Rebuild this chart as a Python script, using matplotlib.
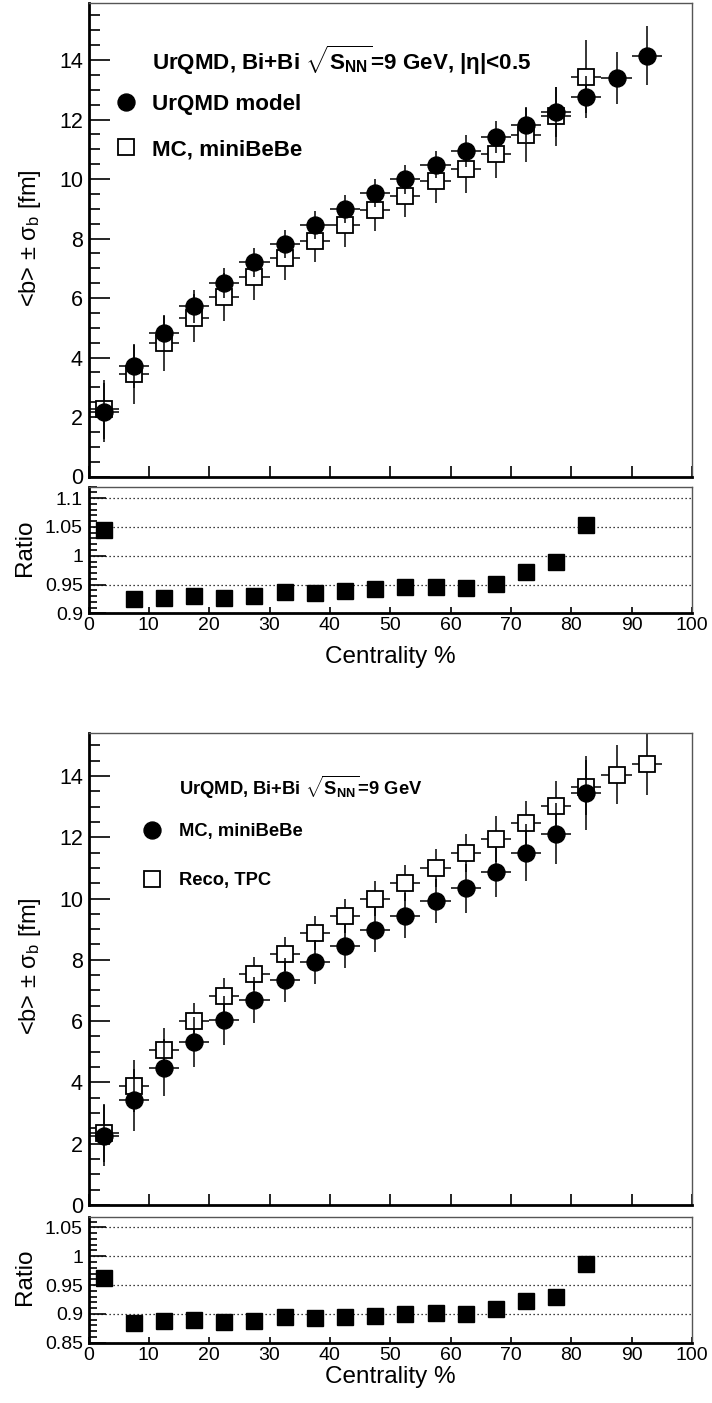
import numpy as np
import matplotlib
matplotlib.use("Agg")
import matplotlib.pyplot as plt
from matplotlib.lines import Line2D
from matplotlib.ticker import MultipleLocator, FixedLocator, FuncFormatter

plt.rcParams["font.family"] = ["Liberation Sans", "DejaVu Sans"]
plt.rcParams["mathtext.fontset"] = "custom"
plt.rcParams["mathtext.rm"] = "Liberation Sans"
plt.rcParams["mathtext.it"] = "Liberation Sans:italic"
plt.rcParams["mathtext.bf"] = "Liberation Sans:bold"
plt.rcParams["mathtext.sf"] = "Liberation Sans"

# ---------------- data ----------------
centrality = [2.5, 7.5, 12.5, 17.5, 22.5, 27.5, 32.5, 37.5, 42.5, 47.5,
              52.5, 57.5, 62.5, 67.5, 72.5, 77.5, 82.5, 87.5, 92.5]
bin_half_width = 2.5

urqmd_b = [2.16, 3.71, 4.82, 5.72, 6.50, 7.20, 7.82, 8.45, 8.98, 9.52,
           9.99, 10.49, 10.94, 11.41, 11.82, 12.24, 12.76, 13.40, 14.15]
urqmd_sigma = [1.00, 0.75, 0.60, 0.55, 0.50, 0.48, 0.47, 0.47, 0.47, 0.47,
               0.49, 0.47, 0.53, 0.53, 0.56, 0.84, 0.71, 0.88, 0.98]

mc_b = [2.26, 3.43, 4.48, 5.33, 6.03, 6.70, 7.33, 7.92, 8.45, 8.97,
        9.44, 9.92, 10.33, 10.85, 11.49, 12.11, 13.44]
mc_sigma = [1.00, 1.00, 0.92, 0.82, 0.80, 0.75, 0.72, 0.72, 0.72, 0.72,
            0.73, 0.72, 0.79, 0.80, 0.93, 1.00, 1.22]

reco_b = [2.35, 3.88, 5.05, 5.99, 6.81, 7.55, 8.20, 8.87, 9.44, 10.00,
          10.50, 11.01, 11.48, 11.95, 12.45, 13.02, 13.63, 14.04, 14.39]
reco_sigma = [0.96, 0.84, 0.71, 0.60, 0.60, 0.55, 0.55, 0.56, 0.56, 0.56,
              0.58, 0.62, 0.63, 0.75, 0.73, 0.82, 0.90, 0.96, 1.01]

ratio_mc_urqmd = [1.045, 0.924, 0.927, 0.930, 0.926, 0.930, 0.937, 0.936, 0.939,
                  0.942, 0.945, 0.946, 0.944, 0.951, 0.972, 0.989, 1.053]
ratio_mc_reco = [0.962, 0.884, 0.887, 0.890, 0.886, 0.888, 0.894, 0.8925, 0.895,
                 0.897, 0.899, 0.901, 0.900, 0.908, 0.923, 0.930, 0.986]

main_yticks = [0, 2, 4, 6, 8, 10, 12, 14]
ratio1_yticks = [0.9, 0.95, 1.0, 1.05, 1.1]
ratio2_yticks = [0.85, 0.9, 0.95, 1.0, 1.05]
x_ticks = [0, 10, 20, 30, 40, 50, 60, 70, 80, 90, 100]

header1 = r"UrQMD, Bi+Bi $\sqrt{\mathbf{S}_{\mathbf{NN}}}$=9 GeV, |η|<0.5"
header2 = r"UrQMD, Bi+Bi $\sqrt{\mathbf{S}_{\mathbf{NN}}}$=9 GeV"
labels1 = ["UrQMD model", "MC, miniBeBe"]
labels2 = ["MC, miniBeBe", "Reco, TPC"]

# ---------------- layout ----------------
W, H = 712, 1403
fig = plt.figure(figsize=(W / 100, H / 100), dpi=100)


def px_axes(left, right, top, bottom):
    return fig.add_axes([left / W, 1 - bottom / H, (right - left) / W, (bottom - top) / H])


XL, XR = 88.5, 692.0
ax1 = px_axes(XL, XR, 3.0, 476.5)
r1 = px_axes(XL, XR, 486.7, 613.3)
ax2 = px_axes(XL, XR, 732.7, 1205.0)
r2 = px_axes(XL, XR, 1216.7, 1342.7)

MS = 12.2
fmt_g = FuncFormatter(lambda v, p: f"{v:g}")


def style_frame(ax):
    for s in ["left", "bottom"]:
        ax.spines[s].set_linewidth(2.0)
        ax.spines[s].set_color("black")
    for s in ["top", "right"]:
        ax.spines[s].set_linewidth(1.0)
        ax.spines[s].set_color("#555555")


def style_main(ax, ymax):
    ax.set_xlim(0, 100)
    ax.set_ylim(0, ymax)
    ax.yaxis.set_major_locator(FixedLocator(main_yticks))
    ax.yaxis.set_minor_locator(MultipleLocator(0.5))
    ax.xaxis.set_major_locator(FixedLocator(x_ticks))
    ax.tick_params(axis="y", which="major", direction="in", length=15, width=1.2,
                   labelsize=15.5, pad=4, right=False)
    ax.tick_params(axis="y", which="minor", direction="in", length=8, width=1.2, right=False)
    ax.tick_params(axis="x", which="major", direction="in", length=8, width=1.2,
                   labelbottom=False, top=False)
    style_frame(ax)


def style_ratio(ax, ylo, yhi, ticks):
    ax.set_xlim(0, 100)
    ax.set_ylim(ylo, yhi)
    ax.yaxis.set_major_locator(FixedLocator(ticks))
    ax.yaxis.set_minor_locator(MultipleLocator(0.01))
    ax.yaxis.set_major_formatter(fmt_g)
    ax.xaxis.set_major_locator(FixedLocator(x_ticks))
    ax.xaxis.set_major_formatter(fmt_g)
    ax.tick_params(axis="y", which="major", direction="in", length=12, width=1.2,
                   labelsize=14, pad=4, right=False)
    ax.tick_params(axis="y", which="minor", direction="in", length=6, width=1.2, right=False)
    ax.tick_params(axis="x", which="major", direction="in", length=4.5, width=1.2,
                   labelsize=14, pad=3, top=False)
    ax.grid(axis="y", which="major", linestyle=(0, (1, 2.2)), color="black", linewidth=0.9)
    style_frame(ax)


def draw_open(ax, x, y, s):
    ax.errorbar(x, y, yerr=s, xerr=bin_half_width, fmt="s", ms=MS, mfc="white",
                mec="black", mew=1.3, ecolor="black", elinewidth=1.1, capsize=0, zorder=2)


def draw_full(ax, x, y, s):
    ax.errorbar(x, y, yerr=s, xerr=bin_half_width, fmt="o", ms=MS, mfc="black",
                mec="black", mew=1.0, ecolor="black", elinewidth=1.1, capsize=0, zorder=3)


n_mc = len(mc_b)

# panel 1
draw_open(ax1, centrality[:n_mc], mc_b, mc_sigma)
draw_full(ax1, centrality, urqmd_b, urqmd_sigma)
style_main(ax1, 15.92)

# panel 2
draw_open(ax2, centrality, reco_b, reco_sigma)
draw_full(ax2, centrality[:n_mc], mc_b, mc_sigma)
style_main(ax2, 15.41)

# ratios
r1.plot(centrality[:n_mc], ratio_mc_urqmd, "s", color="black", ms=MS, zorder=3)
style_ratio(r1, 0.9, 1.12, ratio1_yticks)
r2.plot(centrality[:n_mc], ratio_mc_reco, "s", color="black", ms=MS, zorder=3)
style_ratio(r2, 0.85, 1.0685, ratio2_yticks)

# legends
h_full = Line2D([], [], marker="o", ls="none", ms=MS, mfc="black", mec="black")
h_open = Line2D([], [], marker="s", ls="none", ms=MS, mfc="white", mec="black", mew=1.3)


def add_legend(ax, handles, labels, header, fs, x_marker_px, y_mid_px, y_head_px,
               x_text_px, ax_top, ax_bot, spacing):
    leg = ax.legend(handles, labels, loc="center left", frameon=False,
                    prop={"weight": "bold", "size": fs}, handlelength=1.0,
                    handletextpad=(x_text_px - x_marker_px) / (fs * 100 / 72) - 0.5,
                    labelspacing=spacing, borderpad=0, borderaxespad=0,
                    bbox_to_anchor=((x_marker_px - 0.5 * fs * 100 / 72 - XL) / (XR - XL),
                                    (ax_bot - y_mid_px) / (ax_bot - ax_top)))
    ax.text((x_text_px - XL) / (XR - XL), (ax_bot - y_head_px) / (ax_bot - ax_top), header,
            transform=ax.transAxes, fontsize=fs, fontweight="bold", ha="left", va="center")
    return leg


add_legend(ax1, [h_full, h_open], labels1, header1, 16.1, 126, 127, 60, 152,
           3.0, 476.5, 1.1)
add_legend(ax2, [h_full, h_open], labels2, header2, 13.2, 152, 856, 787, 179,
           732.7, 1205.0, 1.75)

# axis titles
ylab = "<b> ± σ$_\\mathrm{b}$ [fm]"
fig.text(30 / W, 1 - 238 / H, ylab, rotation=90, ha="center", va="center", fontsize=17)
fig.text(30 / W, 1 - 966 / H, ylab, rotation=90, ha="center", va="center", fontsize=17)
fig.text(25 / W, 1 - 548 / H, "Ratio", rotation=90, ha="center", va="center", fontsize=17.5)
fig.text(25 / W, 1 - 1277 / H, "Ratio", rotation=90, ha="center", va="center", fontsize=17.5)
fig.text(390 / W, 1 - 657 / H, "Centrality %", ha="center", va="center", fontsize=17.5)
fig.text(390 / W, 1 - 1377 / H, "Centrality %", ha="center", va="center", fontsize=17.5)

fig.savefig("out.png", dpi=100)
